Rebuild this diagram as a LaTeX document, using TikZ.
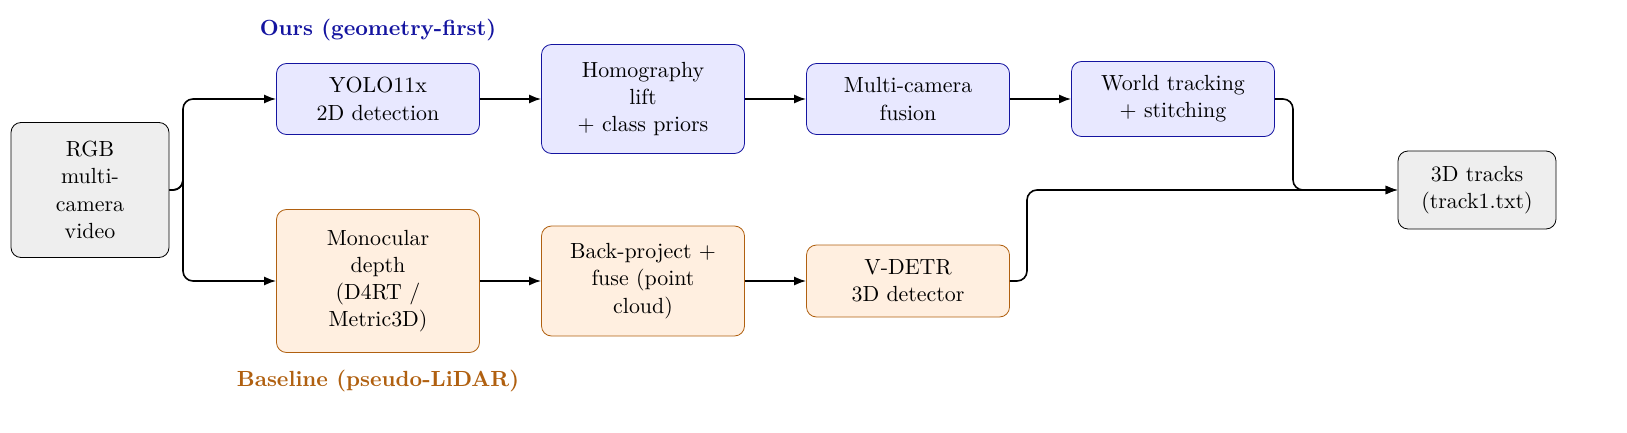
\documentclass[tikz,border=0pt,11pt]{standalone}
\usetikzlibrary{arrows.meta}
\definecolor{oursline}{RGB}{20,20,160}
\definecolor{oursfill}{RGB}{232,232,255}
\definecolor{baseline}{RGB}{176,96,16}
\definecolor{basefill}{RGB}{255,239,224}
\definecolor{iofill}{RGB}{238,238,238}
\begin{document}
\begin{tikzpicture}[x={(0.5pt,0)},y={(0,-0.5pt)},
  box/.style={draw,rounded corners=5pt,align=center,inner sep=4pt},
  ours/.style={box,draw=oursline,fill=oursfill,text width=93.5pt},
  base/.style={box,draw=baseline,fill=basefill,text width=93.5pt},
  io/.style={box,draw=black,fill=iofill,text width=71pt},
  link/.style={-{Latex[length=6pt,width=4.5pt]},thick,rounded corners=5pt}]
  \useasboundingbox (0,0) rectangle (1627,433);
  \node[io,minimum height=67.5pt] (rgb) at (90,190) {RGB\\multi-\\camera\\video};
  \node[ours,minimum height=35.5pt] (yolo) at (378,99) {YOLO11x\\2D detection};
  \node[ours,minimum height=54.5pt] (homo) at (643,99) {Homography\\lift\\+ class priors};
  \node[ours,minimum height=35.5pt] (fuse) at (908,99) {Multi-camera\\fusion};
  \node[ours,minimum height=37.5pt] (world) at (1173,99) {World tracking\\+ stitching};
  \node[io,minimum height=39pt] (tracks) at (1477,190) {3D tracks\\(track1.txt)};
  \node[base,minimum height=71.5pt] (mono) at (378,281) {Monocular\\depth\\(D4RT /\\Metric3D)};
  \node[base,minimum height=55pt] (back) at (643,281) {Back-project +\\fuse (point\\cloud)};
  \node[base,minimum height=36pt] (vdetr) at (908,281) {V-DETR\\3D detector};
  \node[text=oursline,font=\bfseries] (ourslbl) at (378,30) {Ours (geometry-first)};
  \node[text=baseline,font=\bfseries] (baselbl) at (378,381) {Baseline (pseudo-LiDAR)};
  \draw[link] (rgb.east) -| (183,190) |- (yolo.west);
  \draw[link] (rgb.east) -| (183,190) |- (mono.west);
  \draw[link] (yolo) -- (homo);
  \draw[link] (homo) -- (fuse);
  \draw[link] (fuse) -- (world);
  \draw[link] (world.east) -| (1293,190) -- (tracks.west);
  \draw[link] (vdetr.east) -| (1027,190) -- (tracks.west);
  \draw[link] (back) -- (vdetr);
  \draw[link] (mono) -- (back);
\end{tikzpicture}
\end{document}
